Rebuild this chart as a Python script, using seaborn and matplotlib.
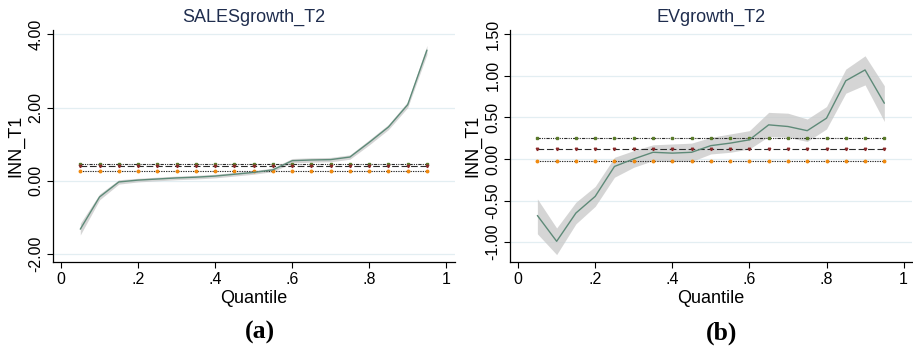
import numpy as np
import pandas as pd
import seaborn as sns
import matplotlib.pyplot as plt

# quantiles
quantile = [0.05, 0.10, 0.15, 0.20, 0.25, 0.30, 0.35, 0.40, 0.45, 0.50,
            0.55, 0.60, 0.65, 0.70, 0.75, 0.80, 0.85, 0.90, 0.95]

# panel (a) SALESgrowth_T2
sales_coef = [-1.32, -0.44, -0.03, 0.02, 0.05, 0.08, 0.10, 0.13, 0.18, 0.23,
              0.30, 0.55, 0.57, 0.58, 0.65, 1.05, 1.47, 2.08, 3.57]
sales_lo = [-1.48, -0.52, -0.09, -0.03, 0.00, 0.03, 0.05, 0.08, 0.13, 0.18,
            0.25, 0.49, 0.51, 0.52, 0.59, 0.98, 1.40, 2.00, 3.45]
sales_hi = [-1.16, -0.36, 0.03, 0.07, 0.10, 0.13, 0.15, 0.18, 0.23, 0.28,
            0.35, 0.61, 0.63, 0.64, 0.71, 1.12, 1.54, 2.16, 3.70]
sales_ref = {"green": 0.45, "red": 0.40, "orange": 0.27}

# panel (b) EVgrowth_T2
ev_coef = [-0.68, -0.99, -0.65, -0.45, -0.09, 0.00, 0.08, 0.07, 0.08, 0.16,
           0.19, 0.23, 0.41, 0.39, 0.34, 0.49, 0.94, 1.07, 0.67]
ev_lo = [-0.90, -1.15, -0.78, -0.57, -0.22, -0.10, -0.02, -0.03, -0.03, 0.06,
         0.08, 0.12, 0.27, 0.26, 0.21, 0.36, 0.79, 0.89, 0.45]
ev_hi = [-0.48, -0.83, -0.52, -0.33, 0.02, 0.10, 0.17, 0.18, 0.19, 0.26,
         0.30, 0.34, 0.56, 0.55, 0.48, 0.63, 1.08, 1.24, 0.88]
ev_ref = {"green": 0.255, "red": 0.115, "orange": -0.025}

sns.set_style("white")
plt.rcParams['font.family'] = ['Liberation Sans', 'DejaVu Sans']
plt.rcParams['text.color'] = 'black'
plt.rcParams['axes.labelcolor'] = 'black'
plt.rcParams['xtick.color'] = 'black'
plt.rcParams['ytick.color'] = 'black'

fig = plt.figure(figsize=(9.13, 3.49), dpi=100)
ax1 = fig.add_axes([0.058, 0.249, 0.440, 0.665])
ax2 = fig.add_axes([0.5586, 0.249, 0.4404, 0.665])

ref_styles = {
    "green": dict(ls=(0, (3, 1, 1, 1, 1, 1)), mcolor="#5a7a2a", marker="s"),
    "red": dict(ls=(0, (6, 2.5)), mcolor="#8b2a2a", marker="v"),
    "orange": dict(ls=(0, (1.2, 1)), mcolor="#f08a10", marker="o"),
}


def draw_panel(ax, coef, lo, hi, refs, title, yticks, ylim, panel, px):
    df = pd.DataFrame({"Quantile": quantile, "coef": coef, "lo": lo, "hi": hi})
    for key, val in refs.items():
        st = ref_styles[key]
        ax.plot(quantile, [val] * len(quantile), color="#2b2b2b", lw=0.8,
                ls=st["ls"], zorder=2)
        ax.plot(quantile, [val] * len(quantile), ls="none", marker=st["marker"],
                ms=1.8, color=st["mcolor"], zorder=3)
    ax.fill_between(df["Quantile"], df["lo"], df["hi"], color="#c8c8c8",
                    alpha=0.75, lw=0, zorder=1)
    sns.lineplot(data=df, x="Quantile", y="coef", ax=ax, color="#5e8a78",
                 lw=1.0, zorder=4)
    ax.set_xlim(-0.021, 1.022)
    ax.set_ylim(*ylim)
    ax.set_xticks([0, 0.2, 0.4, 0.6, 0.8, 1.0])
    ax.set_xticklabels(["0", ".2", ".4", ".6", ".8", "1"], fontsize=11.5)
    ax.set_yticks(yticks)
    ax.set_yticklabels([f"{v:.2f}" for v in yticks], rotation=90,
                       va="center", fontsize=11.5)
    ax.grid(axis="y", color="#e3eef2", lw=0.9)
    ax.set_axisbelow(True)
    for s in ["top", "right"]:
        ax.spines[s].set_visible(False)
    for s in ["left", "bottom"]:
        ax.spines[s].set_color("black")
        ax.spines[s].set_linewidth(0.9)
    ax.tick_params(axis="both", length=4, width=0.8, color="black",
                   direction="out", bottom=True, left=True, pad=3)
    ax.set_title(title, fontsize=13, color="#1f2d4e", pad=6)
    ax.set_ylabel("INN_T1", fontsize=13, labelpad=3)
    ax.set_xlabel("Quantile", fontsize=13, labelpad=2)
    ax.text(px, -0.255, panel, transform=ax.transAxes, ha="center",
            va="top", fontsize=18.5, fontweight="bold",
            family=["Liberation Serif", "DejaVu Serif"])


draw_panel(ax1, sales_coef, sales_lo, sales_hi, sales_ref, "SALESgrowth_T2",
           [-2.0, 0.0, 2.0, 4.0], (-2.22, 4.12), "(a)", 0.515)
draw_panel(ax2, ev_coef, ev_lo, ev_hi, ev_ref, "EVgrowth_T2",
           [-1.0, -0.5, 0.0, 0.5, 1.0, 1.5], (-1.24, 1.55), "(b)", 0.525)

fig.savefig("out.png", dpi=100)
